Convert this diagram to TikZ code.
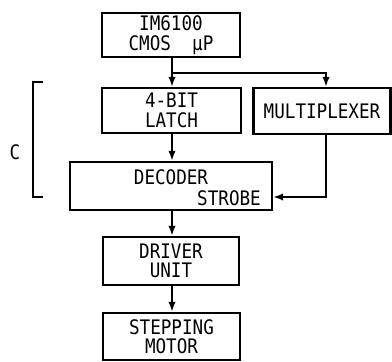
\documentclass[tikz,border=0pt]{standalone}
\usepackage{fontspec}
\setmonofont[FakeStretch=0.88]{DejaVu Sans Mono}
\usetikzlibrary{arrows.meta}
\begin{document}
\begin{tikzpicture}[x=1pt,y=-1pt,
  box/.style={draw,line width=2.4pt,inner sep=0pt,align=center,
    font=\ttfamily\fontsize{20}{19.5}\selectfont},
  lbl/.style={inner sep=0pt,font=\ttfamily\fontsize{20}{19.5}\selectfont},
  conn/.style={line width=2.4pt},
  arr/.style={conn,-{Latex[length=10pt,width=7.5pt]}}]
\useasboundingbox (0,0) rectangle (392,362);
\node[box,minimum width=138pt,minimum height=44pt] (cpu) at (171,35) {IM6100\\CMOS~~µP};
\node[box,minimum width=139pt,minimum height=45pt] (latch) at (171.5,110.5) {4-BIT\\LATCH};
\node[box,minimum width=137pt,minimum height=46pt] (mux) at (322,111) {MULTIPLEXER};
\node[box,minimum width=202pt,minimum height=48pt] (dec) at (171,186) {};
\node[lbl] (dect) at (171,177.5) {DECODER};
\node[lbl,anchor=east] (strb) at (261,198.5) {STROBE};
\node[box,minimum width=136pt,minimum height=48pt] (drv) at (171,261) {DRIVER\\UNIT};
\node[box,minimum width=137pt,minimum height=47pt] (step) at (171.5,336.5) {STEPPING\\MOTOR};
\node[lbl] (c) at (15,152) {C};
\coordinate (j) at (172,73);
\coordinate (mc) at (326,73);
\coordinate (ms) at (326,197);
\coordinate (ax) at (172,0);
\draw[conn] (cpu.south -| j) -- (j);
\draw[arr] (j) -- (j |- latch.north);
\draw[arr] (j) -- (mc) -- (mc |- mux.north);
\draw[arr] (latch.south -| ax) -- (dec.north -| ax);
\draw[arr] (mux.south -| ms) -- (ms) -- (ms -| dec.east);
\draw[arr] (dec.south -| ax) -- (drv.north -| ax);
\draw[arr] (drv.south -| ax) -- (step.north -| ax);
\coordinate (bt) at (43,82);
\coordinate (bb) at (43,197);
\draw[conn] (bt) -- (33,82) -- (33,197) -- (bb);
\end{tikzpicture}
\end{document}
